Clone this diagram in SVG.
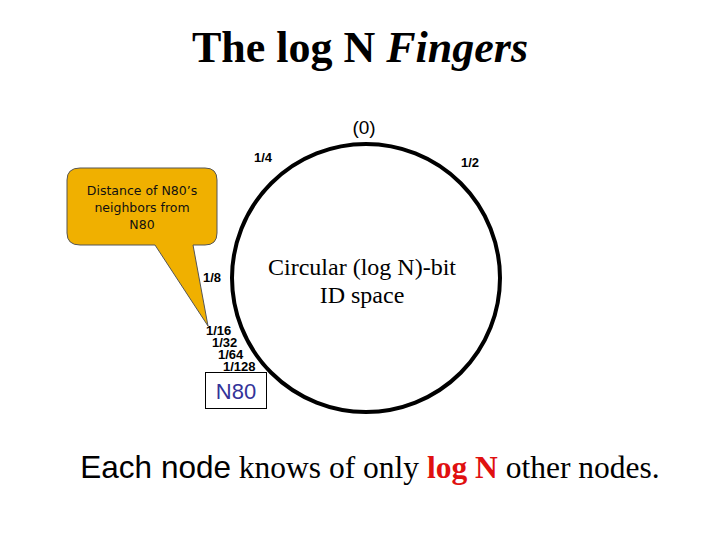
<svg xmlns="http://www.w3.org/2000/svg" width="720" height="540" viewBox="0 0 720 540">
<style>
.frac{font-family:"Liberation Sans",Arial,sans-serif;font-weight:bold;font-size:13px;fill:#000}
.serif{font-family:"Liberation Serif","Times New Roman",serif}
.sans{font-family:"Liberation Sans",Arial,sans-serif}
.call{font-family:"DejaVu Sans",sans-serif;font-size:12.5px;fill:#111}
</style>
<rect width="720" height="540" fill="#fff"/>
<text x="360" y="62" text-anchor="middle" class="serif" font-size="44" font-weight="bold">The log N <tspan font-style="italic">Fingers</tspan></text>
<g id="ring">
<circle cx="366" cy="278" r="134" fill="none" stroke="#000" stroke-width="4"/>
<text x="364" y="134" text-anchor="middle" class="sans" font-size="19">(0)</text>
<text x="362" y="275" text-anchor="middle" class="serif" font-size="24">Circular (log N)-bit</text>
<text x="362" y="303" text-anchor="middle" class="serif" font-size="24">ID space</text>
</g>
<g id="labels">
<text x="254" y="162" class="frac">1/4</text>
<text x="461" y="167" class="frac">1/2</text>
<text x="203" y="282" class="frac">1/8</text>
<text x="206" y="335" class="frac">1/16</text>
<text x="212" y="347" class="frac">1/32</text>
<text x="218" y="359" class="frac">1/64</text>
<text x="223" y="371" class="frac">1/128</text>
</g>
<g id="callout">
<path d="M80,168 H205 Q217,168 217,180 V233 Q217,245 205,245 H193 L208,326 L155,245 H80 Q67,245 67,233 V180 Q67,168 80,168 Z" fill="#F0B000" stroke="#555" stroke-width="1"/>
<text x="142" y="195" text-anchor="middle" class="call">Distance of N80’s</text>
<text x="142" y="212" text-anchor="middle" class="call">neighbors from</text>
<text x="142" y="229" text-anchor="middle" class="call">N80</text>
</g>
<g id="n80">
<rect x="205.5" y="372.5" width="61" height="36" fill="#fff" stroke="#000" stroke-width="1"/>
<text x="236" y="399" text-anchor="middle" class="sans" font-size="22" fill="#333399">N80</text>
</g>
<text x="370" y="478" text-anchor="middle" font-size="31.5"><tspan class="sans">Each node</tspan><tspan class="serif"> knows of only </tspan><tspan class="serif" font-weight="bold" fill="#E01010">log N</tspan><tspan class="serif"> other nodes.</tspan></text>
</svg>
